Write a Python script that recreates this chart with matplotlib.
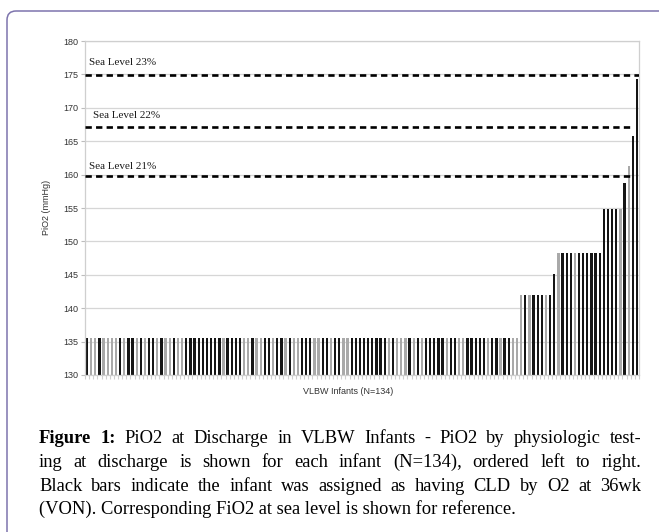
import matplotlib
matplotlib.use("Agg")
import matplotlib.pyplot as plt
import numpy as np
from matplotlib.patches import FancyBboxPatch
from matplotlib.transforms import IdentityTransform

# PiO2 per infant, ordered left to right (134 infants)
values = ([135.5] * 105 + [142.0] * 8 + [145.1] + [148.3] * 11 + [154.9] * 5
          + [158.7, 161.3, 165.8, 174.3])

# infants assigned CLD by O2 at 36wk (black bars)
cld_index = [0, 3, 8, 10, 11, 13, 15, 16, 18, 21, 24, 25, 26, 27, 28, 29, 30, 31,
             32, 34, 35, 36, 37, 40, 43, 44, 46, 47, 49, 52, 53, 54, 57, 58, 60, 61,
             64, 65, 66, 67, 68, 69, 70, 71, 72, 74, 78, 80, 82, 83, 84, 85, 86, 88,
             89, 92, 93, 94, 95, 96, 98, 99, 101, 102, 106, 108, 109, 110, 112, 113,
             115, 116, 117, 119, 120, 121, 122, 123, 124, 125, 126, 127, 128, 130,
             132, 133]

# PiO2 corresponding to FiO2 at sea level
sea_levels = [174.9, 167.1, 159.8]
sea_labels = ["Sea Level 23%", "Sea Level 22%", "Sea Level 21%"]

caption_lines = [
    "Figure 1: PiO2 at Discharge in VLBW Infants - PiO2 by physiologic test-",
    "ing at discharge is shown for each infant (N=134), ordered left to right.",
    "Black bars indicate the infant was assigned as having CLD by O2 at 36wk",
    "(VON). Corresponding FiO2 at sea level is shown for reference.",
]

W, H = 659, 532
fig = plt.figure(figsize=(W / 100, H / 100), dpi=100)

# rounded frame around the figure (runs off the right and bottom)
frame = FancyBboxPatch((7, -30), 700, H - 11 + 30, boxstyle="round,pad=0,rounding_size=9",
                       transform=IdentityTransform(), facecolor="none",
                       edgecolor="#7d74ad", linewidth=1.1)
fig.patches.append(frame)

ax = fig.add_axes([85 / W, 1 - 375 / H, 554 / W, 334 / H])

x = np.arange(len(values))
colors = ["#151515" if i in cld_index else "#a9a9a9" for i in x]
ax.bar(x, values, width=0.55, color=colors, zorder=2)

ax.set_xlim(-0.5, len(values) - 0.5)
ax.set_ylim(130, 180)
ax.set_yticks(np.arange(130, 181, 5))
ax.set_xticks(np.arange(-0.5, len(values), 1))
ax.set_xticklabels([])
ax.yaxis.grid(True, color="#d6d6d6", linewidth=0.9)
ax.set_axisbelow(True)
for s in ax.spines.values():
    s.set_color("#cfcfcf")
    s.set_linewidth(0.9)
ax.tick_params(axis="y", length=3, color="#bdbdbd", labelsize=6.5, labelcolor="#333333", pad=2)
ax.tick_params(axis="x", length=3, color="#d0d0d0")
for lab in ax.get_yticklabels():
    lab.set_family("Liberation Sans")

# sea level reference lines
line_ends = [len(values) - 0.5, 131.6, 131.6]
label_pos = [(0.47, 176.8), (1.43, 168.9), (0.47, 161.2)]
for lvl, lab, xe, (tx, ty) in zip(sea_levels, sea_labels, line_ends, label_pos):
    ax.plot([-0.5, xe], [lvl, lvl], color="black", linewidth=1.9,
            linestyle=(0, (2.4, 1.6)), zorder=3, solid_capstyle="butt")
    ax.text(tx, ty, lab, family="Liberation Serif", fontsize=8, va="center",
            ha="left", color="#1a1a1a")

fig.text(46 / W, 1 - 207 / H, "PiO2 (mmHg)", rotation=90, family="Liberation Sans",
         fontsize=6.5, color="#333333", ha="center", va="center")
fig.text(348 / W, 1 - 392 / H, "VLBW Infants (N=134)", family="Liberation Sans",
         fontsize=6.5, color="#333333", ha="center", va="center")

# caption, justified like the journal page
cap_left, cap_right = 39, 641
baselines = [443, 467, 491, 514]
cap_size = 13.3
renderer = fig.canvas.get_renderer()
for n, (line, yb) in enumerate(zip(caption_lines, baselines)):
    if n == len(caption_lines) - 1:
        fig.text(cap_left / W, 1 - yb / H, line, family="Liberation Serif",
                 fontsize=cap_size, va="baseline", ha="left")
        continue
    words = line.split(" ")
    texts = []
    for k, w in enumerate(words):
        bold = n == 0 and k < 2
        t = fig.text(0, 1 - yb / H, w, family="Liberation Serif", fontsize=cap_size,
                     va="baseline", ha="left", weight="bold" if bold else "normal")
        texts.append(t)
    widths = [t.get_window_extent(renderer).width for t in texts]
    gap = (cap_right - cap_left - sum(widths)) / (len(words) - 1)
    xp = cap_left
    for t, wd in zip(texts, widths):
        t.set_x(xp / W)
        xp += wd + gap

fig.savefig("out.png", dpi=100)
